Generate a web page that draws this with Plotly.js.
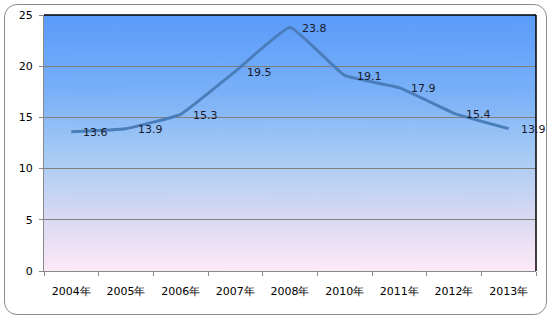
<!DOCTYPE html>
<html><head><meta charset="utf-8">
<script src="https://cdn.plot.ly/plotly-3.0.1.min.js"></script>
<style>
html,body{margin:0;padding:0;background:#fff;}
#wrap{position:relative;width:551px;height:319px;}
#chart{width:551px;height:319px;}
#frame{position:absolute;left:4px;top:4px;width:541px;height:309px;border:1px solid #8c8c8c;border-radius:13px;pointer-events:none;}
</style></head>
<body>
<div id="wrap"><div id="chart"></div><div id="frame"></div></div>
<script>
const categories = ['2004年','2005年','2006年','2007年','2008年','2010年','2011年','2012年','2013年'];
const values = [13.6, 13.9, 15.3, 19.5, 23.8, 19.1, 17.9, 15.4, 13.9];
const labels = values.map(v => v.toFixed(1));

// gradient background image
const cv = document.createElement('canvas');
cv.width = 10; cv.height = 256;
const ctx = cv.getContext('2d');
const g = ctx.createLinearGradient(0, 0, 0, 256);
g.addColorStop(0, '#5a9bfa');
g.addColorStop(0.3, '#79b0f8');
g.addColorStop(0.55, '#a6cbf4');
g.addColorStop(0.8, '#dbdaf2');
g.addColorStop(1, '#fdeaf8');
ctx.fillStyle = g; ctx.fillRect(0, 0, 10, 256);
const bg = cv.toDataURL('image/png');

const font = {family: '"DejaVu Sans", Verdana, sans-serif', size: 11, color: '#000'};

const annotations = categories.map((c, i) => ({
  x: c, y: values[i], text: labels[i], xref: 'x', yref: 'y',
  showarrow: false, xanchor: 'left', yanchor: 'middle', xshift: 10, yshift: -1,
  font: {family: font.family, size: 11, color: '#1a1a2a'}
}));

Plotly.newPlot('chart', [{
  x: categories, y: values,
  type: 'scatter', mode: 'lines',
  line: {color: '#4a7ebb', width: 3, shape: 'spline', smoothing: 0.3},
  hoverinfo: 'none'
}], {
  width: 551, height: 319,
  margin: {l: 44, r: 15, t: 15, b: 48},
  paper_bgcolor: 'rgba(0,0,0,0)', plot_bgcolor: 'rgba(0,0,0,0)',
  showlegend: false, font: font,
  xaxis: {type: 'category', range: [-0.5, categories.length - 0.5], autorange: false,
    tickson: 'boundaries', ticks: 'outside', ticklen: 4,
    tickcolor: '#888', showline: true, linecolor: '#888', linewidth: 1,
    showgrid: false, tickfont: font, fixedrange: true, ticklabelstandoff: 10},
  yaxis: {range: [0, 25], autorange: false, dtick: 5, ticks: 'outside', ticklen: 4, tickcolor: '#888',
    showline: true, linecolor: '#888', linewidth: 1, showgrid: true, gridcolor: '#808080',
    gridwidth: 1, zeroline: false, tickfont: font, fixedrange: true, ticklabelstandoff: 4},
  annotations: annotations,
  images: [{source: bg, xref: 'paper', yref: 'paper', x: 0, y: 1, sizex: 1, sizey: 1,
    sizing: 'stretch', layer: 'below'}],
  shapes: [
    {type: 'line', xref: 'paper', yref: 'paper', x0: 0, x1: 1, y0: 1, y1: 1, line: {color: '#000', width: 1.5}},
    {type: 'line', xref: 'paper', yref: 'paper', x0: 1, x1: 1, y0: 0, y1: 1, line: {color: '#000', width: 1.5}}
  ]
}, {staticPlot: true});
</script>
</body></html>
